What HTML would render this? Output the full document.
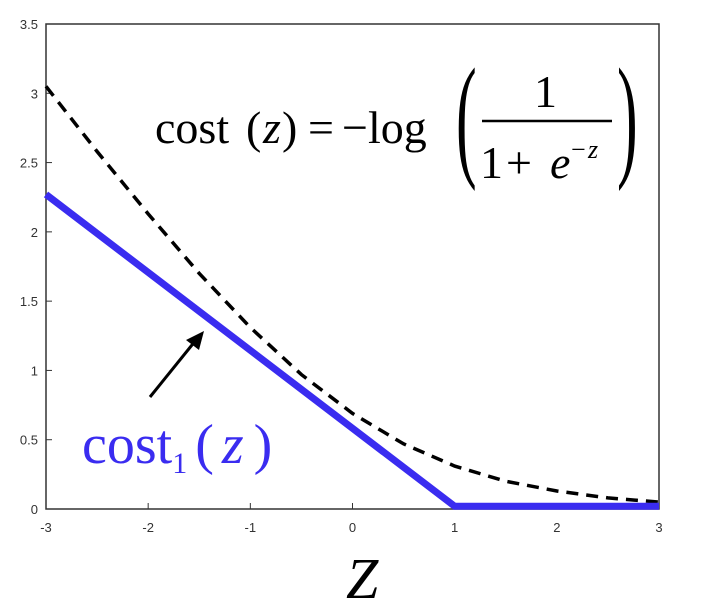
<!DOCTYPE html>
<html><head><meta charset="utf-8"><style>
body{margin:0;background:#fff;width:701px;height:615px;overflow:hidden}
svg{display:block}
</style></head><body>
<svg id="chart" width="701" height="615" font-family="Liberation Sans, sans-serif">
<g id="axes"></g>
<g id="series"></g>
<g font-family="Liberation Serif, serif" font-size="46" fill="#000">
<text x="155" y="143">cost</text>
<text x="246" y="143">(</text>
<text x="263" y="143" font-style="italic">z</text>
<text x="282" y="143">)</text>
<text x="308" y="143">=</text>
<text x="342" y="143">−log</text>
<text transform="translate(456,162) scale(1,2.2)" font-size="62" font-weight="normal">(</text>
<text x="534" y="107">1</text>
<line x1="482" y1="121" x2="612" y2="121" stroke="#000" stroke-width="2.5"/>
<text x="480" y="178">1</text>
<text x="506" y="178">+</text>
<text x="550" y="178" font-style="italic">e</text>
<text x="571" y="158" font-size="26">−</text>
<text x="588" y="158" font-size="26" font-style="italic">z</text>
<text transform="translate(617,162) scale(1,2.2)" font-size="62">)</text>
</g>
<g font-family="Liberation Serif, serif" font-size="56" fill="#3a2cf0">
<text x="82" y="463">cost<tspan font-size="30" dy="10">1</tspan><tspan dy="-10" dx="8">(</tspan><tspan font-style="italic" dx="8">z</tspan><tspan dx="10">)</tspan></text>
</g>
<g>
<line x1="150" y1="397" x2="196" y2="340" stroke="#000" stroke-width="3"/>
<polygon points="204,331 186,340 199,350" fill="#000"/>
</g>
<text x="346" y="598" font-family="Liberation Serif, serif" font-style="italic" font-size="58">Z</text>
</svg>
<script>
const xTicks=[-3,-2,-1,0,1,2,3];
const yTicks=[0,0.5,1,1.5,2,2.5,3,3.5];
const logZ=[-3,-2.5,-2,-1.5,-1,-0.5,0,0.5,1,1.5,2,2.5,3];
const logCost=[3.05,2.58,2.13,1.70,1.31,0.97,0.69,0.47,0.31,0.20,0.13,0.08,0.05];
const hingeZ=[-3,1,3];
const hingeCost=[2.27,0.02,0.02];
const L=46,R=659,T=24,B=509;
const xs=v=>L+(v+3)/6*(R-L);
const ys=v=>B-v/3.5*(B-T);
const NS='http://www.w3.org/2000/svg';
const ax=document.getElementById('axes'),se=document.getElementById('series');
function mk(tag,attrs,parent){const e=document.createElementNS(NS,tag);for(const k in attrs)e.setAttribute(k,attrs[k]);parent.appendChild(e);return e;}
const box=mk('rect',{x:L,y:T,width:R-L,height:B-T,fill:'none',stroke:'#333','stroke-width':1.5},ax);


xTicks.forEach(t=>{
 const l=mk('line',{x1:xs(t),x2:xs(t),y1:B,y2:B-6,stroke:'#333'},ax);
 
 
 const tx=mk('text',{x:xs(t),y:B+23,'text-anchor':'middle','font-size':13,fill:'#333'},ax);
 tx.textContent=t;
 
 
});
yTicks.forEach(t=>{
 const l=mk('line',{x1:L,x2:L+6,y1:ys(t),y2:ys(t),stroke:'#333'},ax);
 
 
 const tx=mk('text',{x:L-8,y:ys(t)+5,'text-anchor':'end','font-size':13,fill:'#333'},ax);
 tx.textContent=t;
 
 
});
const d1=mk('polyline',{points:logZ.map((z,i)=>xs(z)+','+ys(logCost[i])).join(' '),fill:'none',stroke:'#000','stroke-width':3.5,'stroke-dasharray':'12,8'},se);


const d2=mk('polyline',{points:hingeZ.map((z,i)=>xs(z)+','+ys(hingeCost[i])).join(' '),fill:'none',stroke:'#3a2cf0','stroke-width':7},se);


</script>
</body></html>
